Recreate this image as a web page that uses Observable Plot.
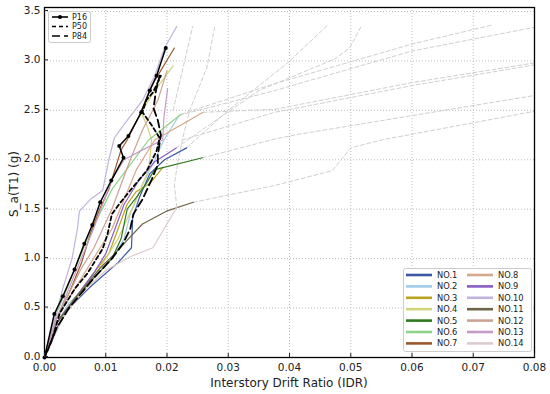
<!DOCTYPE html>
<html>
<head>
<meta charset="utf-8">
<script src="https://cdn.jsdelivr.net/npm/d3@7"></script>
<script src="https://cdn.jsdelivr.net/npm/@observablehq/plot@0.6"></script>
<style>
  html, body { margin: 0; padding: 0; background: #fff; }
  #chart { width: 550px; height: 394px; }
  svg { font-family: "DejaVu Sans", sans-serif; }
</style>
</head>
<body>
<div id="chart"></div>
<script>
// ---------- data (IDR, Sa) ----------
const seriesNames = ["NO.1","NO.2","NO.3","NO.4","NO.5","NO.6","NO.7","NO.8","NO.9","NO.10","NO.11","NO.12","NO.13","NO.14"];
const seriesColors = ["#3b57a6","#a3cbe8","#b8a31e","#d2d47a","#2f7a1f","#8fd289","#99592a","#d5a98b","#8a5ec4","#c0b4dc","#6e6446","#c9a394","#c79bc9","#dccbcd"];

const no1  = [[0,0],[0.002,0.3],[0.004,0.5],[0.0074,0.71],[0.012,0.96],[0.0142,1.11],[0.0144,1.41],[0.0155,1.62],[0.0172,1.86],[0.0196,2.0],[0.0232,2.12]];
const no2  = [[0,0],[0.0015,0.3],[0.004,0.55],[0.008,0.8],[0.011,1.0],[0.013,1.2],[0.014,1.45],[0.016,1.75],[0.018,2.0],[0.0195,2.2],[0.022,2.45]];
const no3  = [[0,0],[0.002,0.35],[0.005,0.6],[0.008,0.85],[0.0105,1.05],[0.012,1.3],[0.0135,1.55],[0.015,1.68],[0.0172,1.76],[0.0193,1.92]];
const no4  = [[0,0],[0.002,0.35],[0.006,0.65],[0.009,0.9],[0.012,1.2],[0.0135,1.4],[0.015,1.6],[0.017,1.9],[0.0175,2.2],[0.0168,2.33],[0.0158,2.48],[0.018,2.7],[0.021,2.95]];
const no5  = [[0,0],[0.002,0.35],[0.005,0.6],[0.008,0.8],[0.011,1.0],[0.0125,1.2],[0.013,1.35],[0.0135,1.5],[0.015,1.62],[0.0165,1.75],[0.018,1.9],[0.0258,2.02]];
const no6  = [[0,0],[0.002,0.45],[0.003,0.6],[0.005,0.9],[0.007,1.2],[0.009,1.45],[0.011,1.7],[0.014,1.95],[0.017,2.2],[0.0223,2.46]];
const no7  = [[0,0],[0.002,0.4],[0.004,0.65],[0.006,0.95],[0.0075,1.25],[0.009,1.5],[0.0105,1.7],[0.0115,1.9],[0.0125,2.1],[0.0135,2.2],[0.0155,2.45],[0.0175,2.75],[0.0212,3.13]];
const no8  = [[0,0],[0.002,0.4],[0.005,0.7],[0.008,1.0],[0.011,1.3],[0.013,1.6],[0.015,1.9],[0.018,2.2],[0.0259,2.48]];
const no9  = [[0,0],[0.002,0.35],[0.005,0.6],[0.008,0.85],[0.01,1.05],[0.0115,1.3],[0.013,1.55],[0.0155,1.8],[0.018,1.98],[0.0215,2.12]];
const no10 = [[0,0],[0.0015,0.35],[0.003,0.7],[0.0045,1.0],[0.0054,1.31],[0.0057,1.48],[0.0075,1.6],[0.0095,1.69],[0.0105,2.0],[0.0114,2.22],[0.0134,2.39],[0.016,2.6],[0.018,2.85],[0.0196,3.13],[0.0216,3.35]];
const no11 = [[0,0],[0.002,0.35],[0.005,0.6],[0.009,0.9],[0.0115,1.05],[0.0134,1.18],[0.016,1.35],[0.0199,1.48],[0.0243,1.57]];
const no12 = [[0,0],[0.002,0.4],[0.004,0.65],[0.006,0.9],[0.008,1.1],[0.0095,1.3],[0.011,1.5],[0.0125,1.75],[0.014,2.0],[0.016,2.3],[0.0185,2.6],[0.02,2.9]];
const no13 = [[0,0],[0.002,0.4],[0.004,0.7],[0.006,1.0],[0.008,1.3],[0.0095,1.55],[0.011,1.8],[0.013,2.0],[0.016,2.1],[0.0193,2.2],[0.0195,2.43],[0.0201,2.72]];
const no14 = [[0,0],[0.003,0.4],[0.006,0.65],[0.01,0.88],[0.014,1.02],[0.0177,1.11],[0.0216,1.52]];
const curves = [no1,no2,no3,no4,no5,no6,no7,no8,no9,no10,no11,no12,no13,no14];

// grey dashed continuations (beyond the solid part)
const cont1  = [[0.0232,2.12],[0.03,2.5],[0.0397,2.98],[0.0462,3.36]];
const cont2  = [[0.0258,2.02],[0.0376,2.21],[0.0417,2.26],[0.08,2.65]];
const cont3  = [[0.0243,1.57],[0.0376,1.74],[0.047,1.89],[0.050,2.12],[0.055,2.2],[0.08,2.49]];
const cont4  = [[0.0216,1.52],[0.0212,1.75],[0.0217,1.95],[0.0225,2.2],[0.0237,2.5],[0.0265,2.93],[0.0278,3.35]];
const cont5  = [[0.022,2.45],[0.0376,2.70],[0.06,3.1],[0.08,3.34]];
const cont6  = [[0.0223,2.46],[0.0376,2.77],[0.06,3.17],[0.0729,3.36]];
const cont7  = [[0.0225,2.2],[0.0376,2.48],[0.06,2.75],[0.08,2.96]];
const cont8  = [[0.0259,2.48],[0.0376,2.51],[0.06,2.78],[0.08,2.98]];
const cont9  = [[0.0215,2.12],[0.035,2.7],[0.0474,3.02],[0.0498,3.13],[0.0518,3.36]];
const cont10 = [[0.021,2.5],[0.0242,3.35]];
const conts = [cont1,cont2,cont3,cont4,cont5,cont6,cont7,cont8,cont9,cont10];

// percentile curves
const p16 = [[0,0],[0.0016,0.44],[0.003,0.62],[0.0049,0.89],[0.0065,1.15],[0.0078,1.34],[0.0091,1.57],[0.0109,1.79],[0.0129,2.02],[0.0122,2.14],[0.0137,2.24],[0.0158,2.48],[0.0172,2.70],[0.0183,2.85],[0.0198,3.13]];
const p50 = [[0,0],[0.0012,0.17],[0.0025,0.45],[0.005,0.7],[0.007,0.85],[0.0085,1.0],[0.0095,1.1],[0.0103,1.25],[0.011,1.45],[0.0123,1.56],[0.0144,1.72],[0.0167,1.89],[0.0183,2.09],[0.0188,2.22],[0.0175,2.35],[0.016,2.48],[0.0166,2.6],[0.0177,2.68],[0.019,2.85]];
const p84 = [[0,0],[0.002,0.3],[0.004,0.5],[0.008,0.8],[0.011,1.0],[0.0128,1.15],[0.014,1.3],[0.0145,1.45],[0.016,1.6],[0.0175,1.8],[0.0185,1.95],[0.0185,2.05],[0.019,2.25],[0.0185,2.4],[0.0178,2.52],[0.0182,2.7],[0.0188,2.85]];

const xTicks = [0,0.01,0.02,0.03,0.04,0.05,0.06,0.07,0.08];
const yTicks = [0,0.5,1.0,1.5,2.0,2.5,3.0,3.5];

// ---------- tables ----------
const colored = curves.flatMap((c, i) => c.map(([x, y]) => ({x, y, s: seriesNames[i]})));
const grey = conts.flatMap((c, i) => c.map(([x, y]) => ({x, y, s: "c" + i})));
const toRows = a => a.map(([x, y]) => ({x, y}));

const chart = Plot.plot({
  width: 550,
  height: 394,
  marginLeft: 44,
  marginRight: 16,
  marginTop: 7,
  marginBottom: 37,
  style: {fontFamily: "DejaVu Sans, sans-serif", fontSize: "10.5px", color: "#222", background: "#fff"},
  x: {domain: [0, 0.08], ticks: xTicks},
  y: {domain: [0, 3.54], ticks: yTicks},
  color: {domain: seriesNames, range: seriesColors},
  marks: [
    Plot.gridX(xTicks, {stroke: "#bdbdbd", strokeOpacity: 1, strokeDasharray: "1,2"}),
    Plot.gridY(yTicks, {stroke: "#bdbdbd", strokeOpacity: 1, strokeDasharray: "1,2"}),
    Plot.line(grey, {x: "x", y: "y", z: "s", stroke: "#cfcfcf", strokeWidth: 1, strokeDasharray: "4,2.5"}),
    Plot.line(colored, {x: "x", y: "y", z: "s", stroke: "s", strokeWidth: 1.2}),
    Plot.line(toRows(p84), {x: "x", y: "y", stroke: "#000", strokeWidth: 1.8, strokeDasharray: "8,4"}),
    Plot.line(toRows(p50), {x: "x", y: "y", stroke: "#000", strokeWidth: 1.8, strokeDasharray: "4,3"}),
    Plot.line(toRows(p16), {x: "x", y: "y", stroke: "#000", strokeWidth: 1.5}),
    Plot.dot(toRows(p16), {x: "x", y: "y", r: 2, fill: "#000"}),
    Plot.frame({stroke: "#000", strokeWidth: 1.3}),
    Plot.axisX(xTicks, {tickSize: -4, tickPadding: 10, tickFormat: d3.format(".2f"), label: null}),
    Plot.axisY(yTicks, {tickSize: -4, tickPadding: 8, tickFormat: d3.format(".1f"), label: null, dy: -1})
  ]
});
document.getElementById("chart").appendChild(chart);

const svg = d3.select(chart);
// axis titles
svg.append("text").attr("x", 289).attr("y", 387).attr("text-anchor", "middle")
  .attr("font-size", 12).attr("fill", "#222").text("Interstory Drift Ratio (IDR)");
svg.append("text").attr("transform", "translate(18,184) rotate(-90)").attr("text-anchor", "middle")
  .attr("font-size", 12).attr("fill", "#222").text("S_a(T1) (g)");

// percentile legend (top-left)
const lg1 = svg.append("g").attr("text-anchor", "start");
lg1.append("rect").attr("x", 48.5).attr("y", 11.5).attr("width", 42).attr("height", 31)
  .attr("fill", "#fff").attr("fill-opacity", 0.85).attr("stroke", "#ccc").attr("rx", 2);
const pItems = [["P16", null, true], ["P50", "4,3", false], ["P84", "8,4", false]];
pItems.forEach(([t, dash, dot], i) => {
  const yy = 17 + i * 9.5;
  const ln = lg1.append("line").attr("x1", 52).attr("x2", 68).attr("y1", yy).attr("y2", yy)
    .attr("stroke", "#000").attr("stroke-width", 1.6);
  if (dash) ln.attr("stroke-dasharray", dash);
  if (dot) lg1.append("circle").attr("cx", 60).attr("cy", yy).attr("r", 2).attr("fill", "#000");
  lg1.append("text").attr("x", 72).attr("y", yy).attr("dy", "0.35em").attr("font-size", 8).attr("fill", "#222").text(t);
});
// series legend (bottom-right)
const lg2 = svg.append("g").attr("text-anchor", "start");
lg2.append("rect").attr("x", 403.5).attr("y", 268.5).attr("width", 128).attr("height", 83)
  .attr("fill", "#fff").attr("fill-opacity", 0.85).attr("stroke", "#ccc").attr("rx", 2);
seriesNames.forEach((n, i) => {
  const col = Math.floor(i / 7), row = i % 7;
  const x0 = col === 0 ? 406 : 467;
  const yy = 275 + row * 11.4;
  lg2.append("line").attr("x1", x0).attr("x2", x0 + 26).attr("y1", yy).attr("y2", yy)
    .attr("stroke", seriesColors[i]).attr("stroke-width", 2.6);
  lg2.append("text").attr("x", x0 + 31).attr("y", yy).attr("dy", "0.35em").attr("font-size", 8.3).attr("fill", "#222").text(n);
});
</script>
</body>
</html>
